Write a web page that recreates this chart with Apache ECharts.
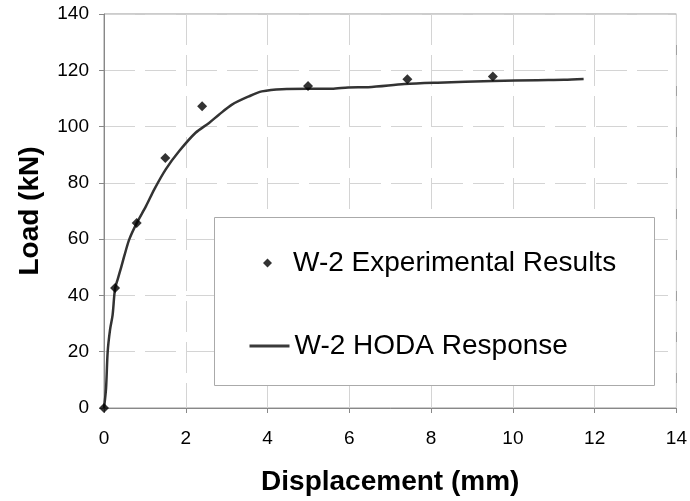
<!DOCTYPE html>
<html>
<head>
<meta charset="utf-8">
<script src="https://cdn.jsdelivr.net/npm/echarts@6/dist/echarts.min.js"></script>
<style>
  html, body { margin: 0; padding: 0; background: #fff; }
  #chart { width: 690px; height: 501px; }
</style>
</head>
<body>
<div id="chart"></div>
<script>
// Experimental points (displacement mm, load kN)
const expDisp = [0, 0.27, 0.80, 1.50, 2.40, 4.99, 7.42, 9.51];
const expLoad = [0, 42.6, 65.7, 88.8, 107.2, 114.4, 116.8, 117.8];

// HODA response curve
const hodaDisp = [0, 0.05, 0.09, 0.15, 0.21, 0.27, 0.34, 0.42, 0.50, 0.62, 0.80, 1.03, 1.23, 1.51, 1.84, 2.24, 2.57, 2.81, 3.13, 3.54, 3.86, 4.35, 5.0, 5.57, 5.97, 6.46, 7.35, 8.16, 9.51, 10.6, 11.25, 11.73];
const hodaLoad = [0, 7, 20, 28, 33, 42.4, 46, 50, 54.2, 60, 65.7, 71.8, 77.7, 84.8, 91.3, 97.8, 101.3, 104.2, 107.8, 110.7, 112.5, 113.3, 113.4, 113.4, 113.9, 114.0, 115.1, 115.6, 116.2, 116.5, 116.6, 116.9];

const xTicks = [0, 2, 4, 6, 8, 10, 12, 14];
const yTicks = [0, 20, 40, 60, 80, 100, 120, 140];

const font = "Arial, 'Liberation Sans', sans-serif";
const chart = echarts.init(document.getElementById("chart"));

const legendText = { fontFamily: font, fontSize: 28, color: "#000", lineHeight: 30 };

const option = {
  backgroundColor: "#fff",
  animation: false,
  grid: {
    left: 104, right: 10, top: 14, bottom: 91,
    show: true, borderColor: "#999", borderWidth: 1
  },
  xAxis: {
    type: "value",
    min: xTicks[0], max: xTicks[xTicks.length - 1], interval: 2,
    name: "Displacement (mm)",
    nameLocation: "middle",
    nameGap: 60,
    nameTextStyle: { fontFamily: font, fontSize: 28, fontWeight: "bold", color: "#000" },
    axisLine: { show: true, lineStyle: { color: "#888", width: 1 } },
    axisTick: { show: true, length: 5, lineStyle: { color: "#888" } },
    axisLabel: { margin: 21, fontFamily: font, fontSize: 19, color: "#000" },
    splitLine: { show: true, lineStyle: { color: "#d4d4d4", width: 1, type: [31, 10] } }
  },
  yAxis: {
    type: "value",
    min: yTicks[0], max: yTicks[yTicks.length - 1], interval: 20,
    name: "Load (kN)",
    nameLocation: "middle",
    nameGap: 60,
    nameTextStyle: { fontFamily: font, fontSize: 28, fontWeight: "bold", color: "#000" },
    axisLine: { show: true, lineStyle: { color: "#888", width: 1 } },
    axisTick: { show: true, length: 5, lineStyle: { color: "#888" } },
    axisLabel: { margin: 15, fontFamily: font, fontSize: 19, color: "#000" },
    splitLine: { show: true, lineStyle: { color: "#d4d4d4", width: 1, type: [31, 10] } }
  },
  // legend box drawn behind the legend items
  graphic: [{
    type: "rect",
    z: 1,
    shape: { x: 214.5, y: 217.5, width: 440, height: 168 },
    style: { fill: "#fff", stroke: "#aaa", lineWidth: 1 }
  }],
  legend: [
    {
      left: 263, top: 248,
      padding: 0,
      itemWidth: 9, itemHeight: 9,
      icon: "diamond",
      itemStyle: { color: "#000" },
      textStyle: Object.assign({}, legendText, { padding: [0, 0, 0, 16] }),
      data: ["W-2 Experimental Results"]
    },
    {
      left: 248, top: 331,
      padding: 0,
      itemWidth: 40, itemHeight: 9,
      itemStyle: { opacity: 0 },
      lineStyle: { width: 3, color: "#3a3a3a" },
      textStyle: legendText,
      data: ["W-2 HODA Response"]
    }
  ],
  series: [
    {
      name: "W-2 HODA Response",
      type: "line",
      data: hodaDisp.map((d, i) => [d, hodaLoad[i]]),
      smooth: 0.3,
      symbol: "none",
      lineStyle: { color: "#333", width: 2.5 },
      itemStyle: { color: "#333" },
      z: 3
    },
    {
      name: "W-2 Experimental Results",
      type: "scatter",
      data: expDisp.map((d, i) => [d, expLoad[i]]),
      symbol: "diamond",
      symbolSize: 10,
      itemStyle: { color: "#000" },
      z: 4
    }
  ]
};

chart.setOption(option);
</script>
</body>
</html>
